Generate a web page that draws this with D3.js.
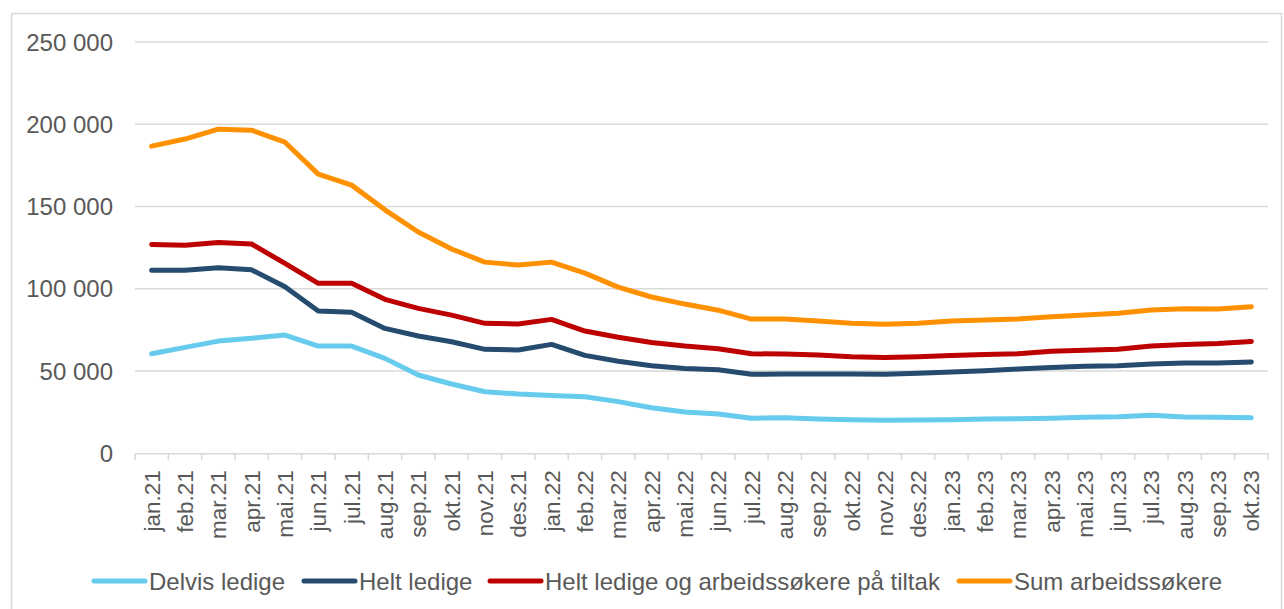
<!DOCTYPE html>
<html>
<head>
<meta charset="utf-8">
<style>
  body { margin: 0; background: #fff; }
  svg text { font-family: "Liberation Sans", Arial, sans-serif; fill: #595959; }
</style>
</head>
<body>
<svg width="1284" height="609"></svg>
<script src="https://d3js.org/d3.v7.min.js"></script>
<script>
var months = ["jan.21","feb.21","mar.21","apr.21","mai.21","jun.21","jul.21","aug.21","sep.21","okt.21","nov.21","des.21",
              "jan.22","feb.22","mar.22","apr.22","mai.22","jun.22","jul.22","aug.22","sep.22","okt.22","nov.22","des.22",
              "jan.23","feb.23","mar.23","apr.23","mai.23","jun.23","jul.23","aug.23","sep.23","okt.23"];

var delvis = [60500,64400,68200,69900,71900,65200,65200,57700,47600,42100,37400,36000,
              35200,34400,31400,27700,25100,23900,21300,21600,20800,20400,20100,20200,
              20400,20800,21000,21300,21900,22200,23100,22100,21900,21600];

var helt = [111200,111200,112800,111500,101200,86500,85700,75900,71300,67800,63200,62800,
            66200,59500,55900,53200,51600,50800,48000,48200,48200,48200,48000,48600,
            49400,50200,51200,52200,52900,53200,54300,54900,54900,55500];

var tiltak = [126900,126400,128200,127200,115400,103300,103300,93600,88100,84000,79000,78600,
              81400,74300,70500,67400,65200,63600,60500,60300,59700,58700,58300,58700,
              59500,60100,60500,62000,62600,63200,65200,66200,66800,68000];

var sum = [186700,191000,197000,196400,189100,169700,163000,148000,134500,124200,116200,114400,
           116200,109500,101000,95000,90700,87000,81600,81600,80400,79000,78500,79000,
           80400,81000,81600,83000,84000,85100,87100,87800,87700,89100];

var yTicks = [0, 50000, 100000, 150000, 200000, 250000];

var series = [
  {name: "Delvis ledige", values: delvis, color: "#66CBEC"},
  {name: "Helt ledige", values: helt, color: "#254B6E"},
  {name: "Helt ledige og arbeidssøkere på tiltak", values: tiltak, color: "#BD0000"},
  {name: "Sum arbeidssøkere", values: sum, color: "#FF9100"}
];

var svg = d3.select("svg");

// outer frame
svg.append("rect")
  .attr("x", 11.5).attr("y", 13.5)
  .attr("width", 1270).attr("height", 610)
  .attr("fill", "none").attr("stroke", "#D9D9D9").attr("stroke-width", 1.5);

var plotL = 135, plotR = 1268, plotT = 42, plotB = 453.3;

var x = d3.scaleBand().domain(months).range([plotL, plotR]);
var y = d3.scaleLinear().domain([0, 250000]).range([plotB, plotT]);

var fmt = function (v) { return d3.format(",")(v).replace(/,/g, " "); };

// grid + y labels
var gy = svg.append("g");
gy.selectAll("line").data(yTicks.filter(function (d) { return d > 0; })).enter().append("line")
  .attr("x1", plotL).attr("x2", plotR)
  .attr("y1", function (d) { return y(d); }).attr("y2", function (d) { return y(d); })
  .attr("stroke", "#D9D9D9").attr("stroke-width", 1.5);
gy.selectAll("text").data(yTicks).enter().append("text")
  .attr("x", 113).attr("y", function (d) { return y(d); })
  .attr("dy", "0.36em").attr("text-anchor", "end")
  .attr("font-size", 24)
  .text(fmt);

// x axis
var xAxis = svg.append("g")
  .attr("transform", "translate(0," + plotB + ")")
  .call(d3.axisBottom(x).tickSize(0).tickPadding(0).tickFormat(""));
xAxis.select(".domain").attr("stroke", "#D9D9D9").attr("stroke-width", 1.5);

var bounds = months.map(function (m) { return x(m); }).concat([plotR]);
svg.append("g").selectAll("line").data(bounds).enter().append("line")
  .attr("x1", function (d) { return d; }).attr("x2", function (d) { return d; })
  .attr("y1", plotB).attr("y2", plotB + 7)
  .attr("stroke", "#D9D9D9").attr("stroke-width", 1.5);

svg.append("g").selectAll("text").data(months).enter().append("text")
  .attr("transform", function (d) {
    return "translate(" + (x(d) + x.bandwidth() / 2) + "," + (plotB + 17) + ") rotate(-90)";
  })
  .attr("dy", "0.36em").attr("text-anchor", "end")
  .attr("font-size", 22.5)
  .text(function (d) { return d; });

// lines
var line = d3.line()
  .x(function (d, i) { return x(months[i]) + x.bandwidth() / 2; })
  .y(function (d) { return y(d); });

svg.append("g").selectAll("path").data(series).enter().append("path")
  .attr("d", function (s) { return line(s.values); })
  .attr("fill", "none")
  .attr("stroke", function (s) { return s.color; })
  .attr("stroke-width", 5)
  .attr("stroke-linejoin", "round")
  .attr("stroke-linecap", "round");

// legend
var legendX = [92, 302, 488, 957];
var lg = svg.append("g").selectAll("g").data(series).enter().append("g")
  .attr("transform", function (d, i) { return "translate(" + legendX[i] + ",581)"; });
lg.append("line")
  .attr("x1", 2).attr("x2", 53).attr("y1", 0).attr("y2", 0)
  .attr("stroke", function (d) { return d.color; })
  .attr("stroke-width", 5).attr("stroke-linecap", "round");
lg.append("text")
  .attr("x", 57).attr("y", 0).attr("dy", "0.36em")
  .attr("font-size", 24)
  .text(function (d) { return d.name; });
</script>
</body>
</html>
